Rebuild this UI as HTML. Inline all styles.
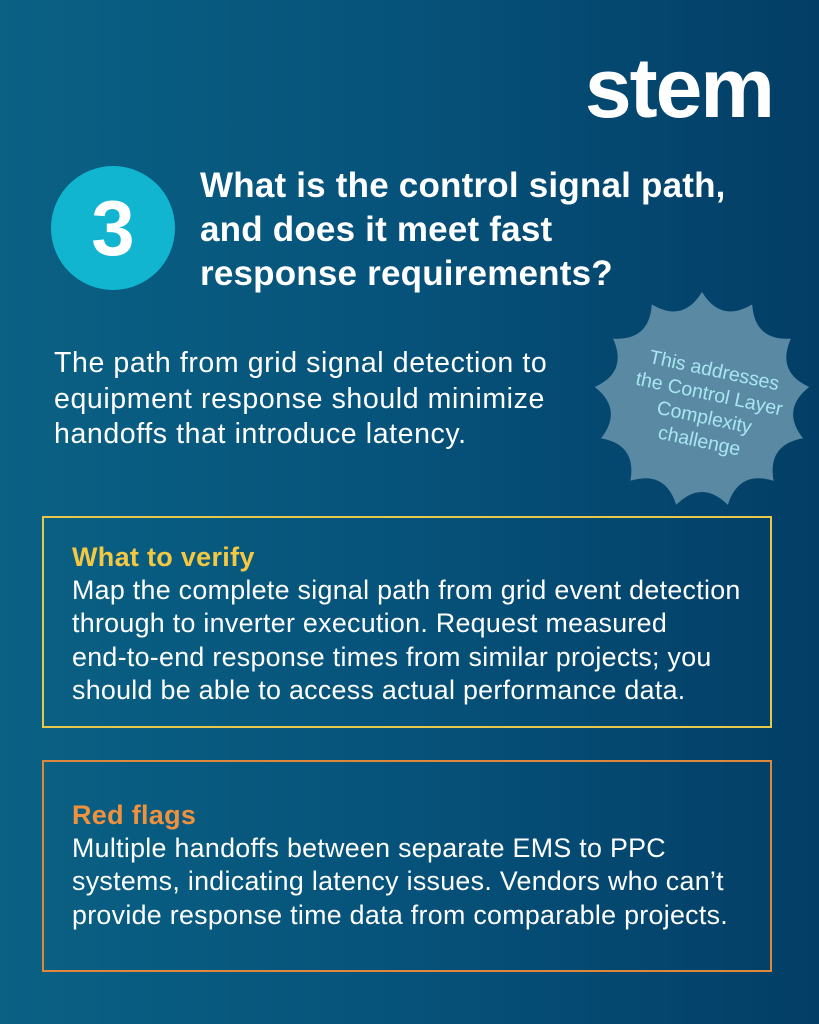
<!DOCTYPE html>
<html><head><style>
body{margin:0}
.p{position:relative;width:819px;height:1024px;overflow:hidden;background:linear-gradient(90deg,#0a6184 0%,#06527a 50%,#033e66 100%);font-family:"Liberation Sans",sans-serif;color:#fff}
.a{position:absolute}
.logo{right:46px;top:46px;font-size:84px;font-weight:bold;letter-spacing:-2px;line-height:1}
.c{left:51px;top:166px;width:124px;height:124px;border-radius:50%;background:#12b5d0;font-size:78px;font-weight:bold;text-align:center;line-height:124px}
.t{left:200px;top:164px;font-size:35px;font-weight:bold;line-height:44px;letter-spacing:0.2px}
.b{left:54px;top:346px;font-size:28.5px;line-height:35.5px;letter-spacing:0.6px;white-space:nowrap}
.box{left:42px;width:730px;height:212px;border:2px solid #e8c84a;box-sizing:border-box}
.box h{display:block;font-weight:bold;font-size:27px;margin-bottom:-1px}
.box div{position:absolute;left:28px;top:23px;font-size:26.8px;line-height:33.5px;letter-spacing:0.3px;white-space:nowrap}
</style></head><body><div class="p">
<div class="a logo">stem</div>
<div class="a c">3</div>
<div class="a t">What is the control signal path,<br>and does it meet fast<br>response requirements?</div>
<div class="a b">The path from grid signal detection to<br>equipment response should minimize<br>handoffs that introduce latency.</div>
<svg class="a" style="left:590px;top:290px" width="229" height="220" viewBox="0 0 229 220">
<path id="s" fill="#5a8aa3" d=""/>
<g transform="rotate(12 118 110)" fill="#a9e6f2" font-family="Liberation Sans,sans-serif" font-size="19.5" text-anchor="middle">
<text x="118" y="86">This addresses</text>
<text x="118" y="110">the Control Layer</text>
<text x="118" y="134">Complexity</text>
<text x="118" y="158">challenge</text>
</g></svg>
<script>
(function(){var cx=112,cy=110,n=13,R=108,r=86,d="";for(var i=0;i<n;i++){var a0=(i/n)*2*Math.PI-Math.PI/2,a1=((i+0.5)/n)*2*Math.PI-Math.PI/2,a2=((i+1)/n)*2*Math.PI-Math.PI/2;var p=function(a,rr){return (cx+rr*Math.cos(a)).toFixed(1)+" "+(cy+rr*Math.sin(a)).toFixed(1)};if(i==0)d+="M"+p(a0,R);d+=" Q"+p(a1,r*0.92)+" "+p(a2,R);}document.getElementById("s").setAttribute("d",d+"Z");})();
</script>
<div class="a box" style="top:516px"><div><h style="color:#f5c842">What to verify</h>Map the complete signal path from grid event detection<br>through to inverter execution. Request measured<br>end-to-end response times from similar projects; you<br>should be able to access actual performance data.</div></div>
<div class="a box" style="top:760px;border-color:#e0873a"><div style="top:37px"><h style="color:#f0913d">Red flags</h>Multiple handoffs between separate EMS to PPC<br>systems, indicating latency issues. Vendors who can’t<br>provide response time data from comparable projects.</div></div>
</div></body></html>
